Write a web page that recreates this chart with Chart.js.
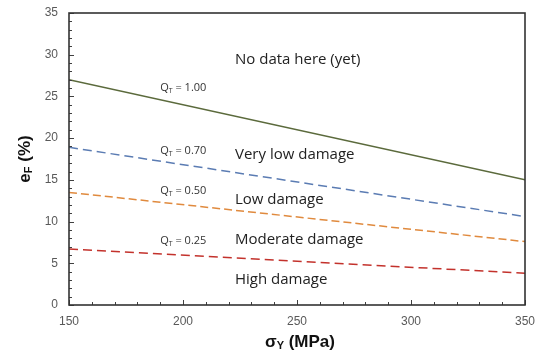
<!DOCTYPE html>
<html>
<head>
<meta charset="utf-8">
<script src="https://cdn.jsdelivr.net/npm/chart.js@4.4.1/dist/chart.umd.min.js"></script>
<style>
html,body{margin:0;padding:0;background:#fff;}
#wrap{width:541px;height:358px;position:relative;}
</style>
</head>
<body>
<div id="wrap"><canvas id="c" width="541" height="358"></canvas></div>
<script>
// ---- data ----
const sigmaY = [150, 350];
const q100 = [27.0, 15.0];
const q070 = [18.9, 10.6];
const q050 = [13.5, 7.6];
const q025 = [6.7, 3.8];
const seriesNames = ['QT = 1.00', 'QT = 0.70', 'QT = 0.50', 'QT = 0.25'];
const qLabels = ['1.00', '0.70', '0.50', '0.25'];
const regionLabels = ['No data here (yet)', 'Very low damage', 'Low damage', 'Moderate damage', 'High damage'];
const xTicks = [150, 200, 250, 300, 350];
const yTicks = [0, 5, 10, 15, 20, 25, 30, 35];

function pts(ys){ return sigmaY.map((x,i)=>({x:x, y:ys[i]})); }
function zeroPad(s){ s.paddingTop = 0; s.paddingBottom = 0; s.paddingLeft = 0; s.paddingRight = 0; }

const annot = {
  id:'annot',
  afterDraw(chart){
    const ctx = chart.ctx, a = chart.chartArea, xs = chart.scales.x, ys = chart.scales.y;
    ctx.save();
    // ticks inward
    ctx.strokeStyle = '#404040'; ctx.lineWidth = 1;
    ctx.beginPath();
    for(let v=150; v<=350; v+=10){
      const px = Math.round(xs.getPixelForValue(v))+0.5;
      const len = (v%50===0)?5:3;
      ctx.moveTo(px, a.bottom); ctx.lineTo(px, a.bottom-len);
    }
    for(let v=0; v<=35; v+=1){
      const py = Math.round(ys.getPixelForValue(v))+0.5;
      const len = (v%5===0)?5:3;
      ctx.moveTo(a.left, py); ctx.lineTo(a.left+len, py);
    }
    ctx.stroke();
    // frame
    ctx.strokeStyle = '#333'; ctx.lineWidth = 1.6;
    ctx.strokeRect(a.left, a.top, a.right-a.left, a.bottom-a.top);

    // Q labels
    const qPos = [[190,26.0],[190,18.5],[190,13.7],[190,7.7]];
    ctx.fillStyle = '#333';
    ctx.textBaseline = 'middle'; ctx.textAlign = 'left';
    qLabels.forEach((t,i)=>{
      let x = xs.getPixelForValue(qPos[i][0]), y = ys.getPixelForValue(qPos[i][1]);
      ctx.font = '11px "Open Sans"';
      ctx.fillText('Q', x, y);
      x += ctx.measureText('Q').width;
      ctx.font = '7px "Open Sans"';
      ctx.fillText('T', x, y+3);
      x += ctx.measureText('T').width;
      ctx.font = '11px "Open Sans"';
      ctx.fillText(' = ' + t, x, y);
    });
    // region labels
    const rPos = [[222.8,29.4],[222.8,18.0],[222.8,12.6],[222.8,7.8],[222.8,3.0]];
    ctx.fillStyle = '#222';
    ctx.font = '15px "Open Sans"';
    regionLabels.forEach((t,i)=>{
      ctx.fillText(t, xs.getPixelForValue(rPos[i][0]), ys.getPixelForValue(rPos[i][1]));
    });
    // axis titles
    ctx.fillStyle = '#111';
    ctx.textBaseline = 'middle';
    const s1 = 'σ', s3 = ' (MPa)';
    ctx.font = 'bold 11px "Liberation Sans"';
    const wSub = ctx.measureText('Y').width;
    ctx.font = 'bold 17px "Liberation Sans"';
    const w1 = ctx.measureText(s1).width, w3 = ctx.measureText(s3).width;
    let tx = (a.left+a.right)/2 - (w1+wSub+w3)/2 + 3, ty = 342;
    ctx.fillText(s1, tx, ty); tx += w1;
    ctx.font = 'bold 11px "Liberation Sans"';
    ctx.fillText('Y', tx, ty+4); tx += wSub;
    ctx.font = 'bold 17px "Liberation Sans"';
    ctx.fillText(s3, tx, ty);
    ctx.translate(25, (a.top+a.bottom)/2);
    ctx.rotate(-Math.PI/2);
    ctx.font = 'bold 17px "Liberation Sans"';
    const e1 = ctx.measureText('e').width, e3 = ctx.measureText(' (%)').width;
    ctx.font = 'bold 11px "Liberation Sans"';
    const eSub = ctx.measureText('F').width;
    let ux = -(e1+eSub+e3)/2;
    ctx.font = 'bold 17px "Liberation Sans"';
    ctx.fillText('e', ux, 0); ux += e1;
    ctx.font = 'bold 11px "Liberation Sans"';
    ctx.fillText('F', ux, 4); ux += eSub;
    ctx.font = 'bold 17px "Liberation Sans"';
    ctx.fillText(' (%)', ux, 0);
    ctx.restore();
  }
};

new Chart(document.getElementById('c'), {
  type:'line',
  data:{
    datasets:[
      {label:seriesNames[0], data:pts(q100), borderColor:'#5b6a3c', borderWidth:1.5, pointRadius:0, fill:false},
      {label:seriesNames[1], data:pts(q070), borderColor:'#5b7cb3', borderWidth:1.5, borderDash:[9,5], pointRadius:0, fill:false},
      {label:seriesNames[2], data:pts(q050), borderColor:'#e08a3e', borderWidth:1.5, borderDash:[8,4], pointRadius:0, fill:false},
      {label:seriesNames[3], data:pts(q025), borderColor:'#c3322c', borderWidth:1.5, borderDash:[9,5], pointRadius:0, fill:false}
    ]
  },
  options:{
    responsive:false, animation:false,
    layout:{padding:{top:13, right:16, left:0, bottom:0}},
    plugins:{legend:{display:false}, tooltip:{enabled:false}},
    scales:{
      x:{type:'linear', min:150, max:350,
        afterBuildTicks(s){ s.ticks = xTicks.map(v=>({value:v})); },
        afterFit(s){ s.height = 53; zeroPad(s); },
        grid:{display:false, drawTicks:false},
        border:{display:false},
        ticks:{padding:9, color:'#595959', font:{family:'"Liberation Sans"', size:12}, maxRotation:0}
      },
      y:{type:'linear', min:0, max:35,
        afterBuildTicks(s){ s.ticks = yTicks.map(v=>({value:v})); },
        afterFit(s){ s.width = 69; zeroPad(s); },
        grid:{display:false, drawTicks:false},
        border:{display:false},
        ticks:{padding:11, color:'#595959', font:{family:'"Liberation Sans"', size:12}}
      }
    }
  },
  plugins:[annot]
});
</script>
</body>
</html>
